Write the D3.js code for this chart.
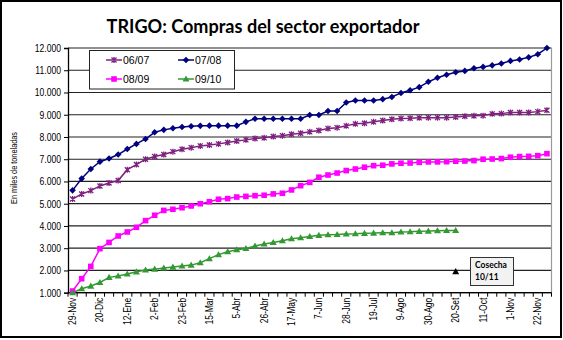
<!DOCTYPE html>
<html><head><meta charset="utf-8">
<script src="https://cdn.jsdelivr.net/npm/d3@7/dist/d3.min.js"></script>
<style>
html,body{margin:0;padding:0;background:#fff;}
svg{display:block;}
</style></head>
<body>
<svg id="chart" width="563" height="340"></svg>
<script>
// ---- data ----
const title = "TRIGO: Compras del sector exportador";
const yTitle = "En miles de toneladas";
const seriesNames = ["06/07", "07/08", "08/09", "09/10"];
const tickLabels = ["29-Nov","20-Dic","12-Ene","2-Feb","23-Feb","15-Mar","5-Abr","26-Abr","17-May","7-Jun","28-Jun","19-Jul","9-Ago","30-Ago","20-Set","11-Oct","1-Nov","22-Nov"];
const weekCount = 53;
const yTicks = [1000,2000,3000,4000,5000,6000,7000,8000,9000,10000,11000,12000];

const s0607 = [5210,5440,5590,5800,5930,6040,6530,6760,7000,7120,7210,7340,7450,7520,7600,7640,7690,7750,
  7820,7870,7930,7960,8020,8060,8120,8170,8230,8290,8380,8420,8500,8590,8620,8680,8740,
  8800,8830,8840,8860,8870,8870,8870,8900,8930,8950,8960,9040,9050,9100,9100,9100,9140,9200];
const s0708 = [5600,6130,6560,6890,7030,7210,7460,7690,7910,8210,8320,8390,8450,8480,8500,8510,8510,8510,
  8510,8680,8820,8820,8820,8820,8820,8820,8990,8990,9170,9170,9550,9640,9640,9640,9700,
  9800,9980,10100,10240,10480,10660,10800,10910,10970,11090,11150,11220,11300,11420,11480,11580,11720,12000];
const s0809 = [1075,1630,2180,2980,3260,3550,3730,3940,4240,4480,4700,4750,4820,4900,5000,5090,5200,5230,
  5300,5330,5360,5380,5440,5470,5620,5810,5960,6190,6290,6380,6490,6560,6640,6710,6730,
  6790,6820,6830,6860,6880,6880,6890,6910,6920,6940,7000,7010,7030,7090,7120,7130,7160,7250];
const s0910 = [1000,1180,1300,1460,1690,1750,1840,1940,2020,2060,2110,2150,2200,2240,2350,2530,2710,2840,
  2930,2990,3100,3190,3260,3340,3430,3470,3530,3580,3610,3620,3640,3650,3670,3680,3700,
  3700,3730,3740,3760,3770,3790,3800,3800];
const harvestLabel = ["Cosecha", "10/11"];
const harvestIndex = 42;
const harvestValue = 1950;

// ---- styles ----
const colors = ["#7f1f7f", "#000080", "#ff00ff", "#339933"];
const markers = ["star", "diamond", "square", "triangle"];
const allSeries = [s0607, s0708, s0809, s0910];

const svg = d3.select("#chart");
const L = 68, R = 551.5, T = 48, B = 292.7;

const weeks = d3.range(weekCount);
const x = d3.scalePoint().domain(weeks).range([L, R]).padding(0.5);
const step = x.step();
const y = d3.scaleLinear().domain([1000, 12000]).range([B, T]);

// outer frame
svg.append("rect").attr("x",1).attr("y",1).attr("width",560).attr("height",336)
  .attr("fill","#fff").attr("stroke","#000").attr("stroke-width",2);

// title
const tt = svg.append("text").attr("x",263).attr("y",33).attr("text-anchor","middle")
  .attr("font-family","Lato, 'Open Sans', sans-serif").attr("font-weight","bold")
  .attr("font-size",20).attr("fill","#000").text(title);
{
  const w = tt.node().getComputedTextLength();
  tt.attr("font-size", 20 * 313 / w);
}

// gridlines
svg.append("g").selectAll("line").data(yTicks).join("line")
  .attr("x1", L).attr("x2", R).attr("y1", d => y(d)).attr("y2", d => y(d))
  .attr("stroke", "#222").attr("stroke-width", 1.2);
// plot right border
svg.append("line").attr("x1",R).attr("x2",R).attr("y1",T).attr("y2",B)
  .attr("stroke","#999").attr("stroke-width",1.2);

// y axis
const yAxis = svg.append("g").attr("transform", `translate(${L},0)`)
  .call(d3.axisLeft(y).tickValues(yTicks).tickSize(4).tickPadding(3)
    .tickFormat(d => d3.format(",")(d).replace(/,/g, ".")));
yAxis.select(".domain").attr("stroke","#000").attr("stroke-width",1.3);
yAxis.selectAll(".tick line").attr("stroke","#000");
yAxis.selectAll("text").attr("font-family","'Liberation Sans', Arial, sans-serif")
  .attr("font-size",10.5).attr("fill","#000")
  .attr("transform", function(){ const xx = +d3.select(this).attr("x"); return `translate(${xx*0.18},0) scale(0.82,1)`; });

// y title
svg.append("text").attr("transform","translate(17,168) rotate(-90)")
  .attr("text-anchor","middle").attr("font-family","'Liberation Sans', Arial, sans-serif")
  .attr("font-size",9.5).attr("textLength",72).attr("lengthAdjust","spacingAndGlyphs")
  .attr("fill","#000").text(yTitle);

// x axis
const xg = svg.append("g").attr("transform", `translate(0,${B})`);
xg.append("line").attr("x1",L).attr("x2",R).attr("stroke","#000").attr("stroke-width",1.3);
xg.selectAll("line.tk").data(d3.range(weekCount + 1)).join("line").attr("class","tk")
  .attr("x1", i => L + i * step).attr("x2", i => L + i * step)
  .attr("y1", 0).attr("y2", 4).attr("stroke","#000");
xg.selectAll("text").data(tickLabels).join("text")
  .attr("transform", (d, i) => `translate(${x(i * 3) + 3.5},${5}) rotate(-90) scale(0.85,1)`)
  .attr("text-anchor","end").attr("font-family","'Liberation Sans', Arial, sans-serif")
  .attr("font-size",10).attr("fill","#000").text(d => d);

// marker drawing
function drawMarker(g, type, color) {
  if (type === "star") {
    g.append("path").attr("d","M-2.5,-2.5L2.5,2.5M-2.5,2.5L2.5,-2.5M0,-3L0,3")
      .attr("stroke", color).attr("stroke-width",1.3).attr("fill","none");
  } else if (type === "diamond") {
    g.append("path").attr("d","M0,-3.3L3.3,0L0,3.3L-3.3,0Z").attr("fill", color);
  } else if (type === "square") {
    g.append("rect").attr("x",-2.8).attr("y",-2.8).attr("width",5.6).attr("height",5.6).attr("fill", color);
  } else if (type === "triangle") {
    g.append("path").attr("d","M0,-3.5L3.5,2.6L-3.5,2.6Z").attr("fill", color);
  }
}

const line = d3.line().x((d, i) => x(i)).y(d => y(d));
allSeries.forEach((s, k) => {
  svg.append("path").datum(s).attr("d", line).attr("fill","none")
    .attr("stroke", colors[k]).attr("stroke-width",1.5);
});
allSeries.forEach((s, k) => {
  s.forEach((v, i) => {
    const g = svg.append("g").attr("transform", `translate(${x(i)},${y(v)})`);
    drawMarker(g, markers[k], colors[k]);
  });
});

// legend
const lg = svg.append("g");
lg.append("rect").attr("x",89.5).attr("y",50.5).attr("width",145).attr("height",38.5)
  .attr("fill","#fff").attr("stroke","#222").attr("stroke-width",1);
const legPos = [[106,60],[178,60],[106,79],[178,79]];
seriesNames.forEach((n, k) => {
  const [lx, ly] = legPos[k];
  lg.append("line").attr("x1",lx).attr("x2",lx+16).attr("y1",ly).attr("y2",ly)
    .attr("stroke",colors[k]).attr("stroke-width",1.5);
  drawMarker(lg.append("g").attr("transform",`translate(${lx+8},${ly})`), markers[k], colors[k]);
  lg.append("text").attr("x",lx+17).attr("y",ly+3.7)
    .attr("font-family","'Liberation Sans', Arial, sans-serif").attr("font-size",10.5)
    .attr("fill","#000").text(n);
});

// harvest annotation
drawMarker(svg.append("g").attr("transform",`translate(${x(harvestIndex)},${y(harvestValue)})`), "triangle", "#000");
svg.append("rect").attr("x",470.5).attr("y",257.5).attr("width",43).attr("height",28)
  .attr("fill","#f2f2f2").attr("stroke","#333").attr("stroke-width",1);
harvestLabel.forEach((t, i) => {
  svg.append("text").attr("x",475).attr("y",268 + i * 12)
    .attr("font-family","Lato, 'Open Sans', sans-serif").attr("font-weight","bold")
    .attr("font-size",8.5).attr("fill","#000").text(t);
});
</script>
</body></html>
